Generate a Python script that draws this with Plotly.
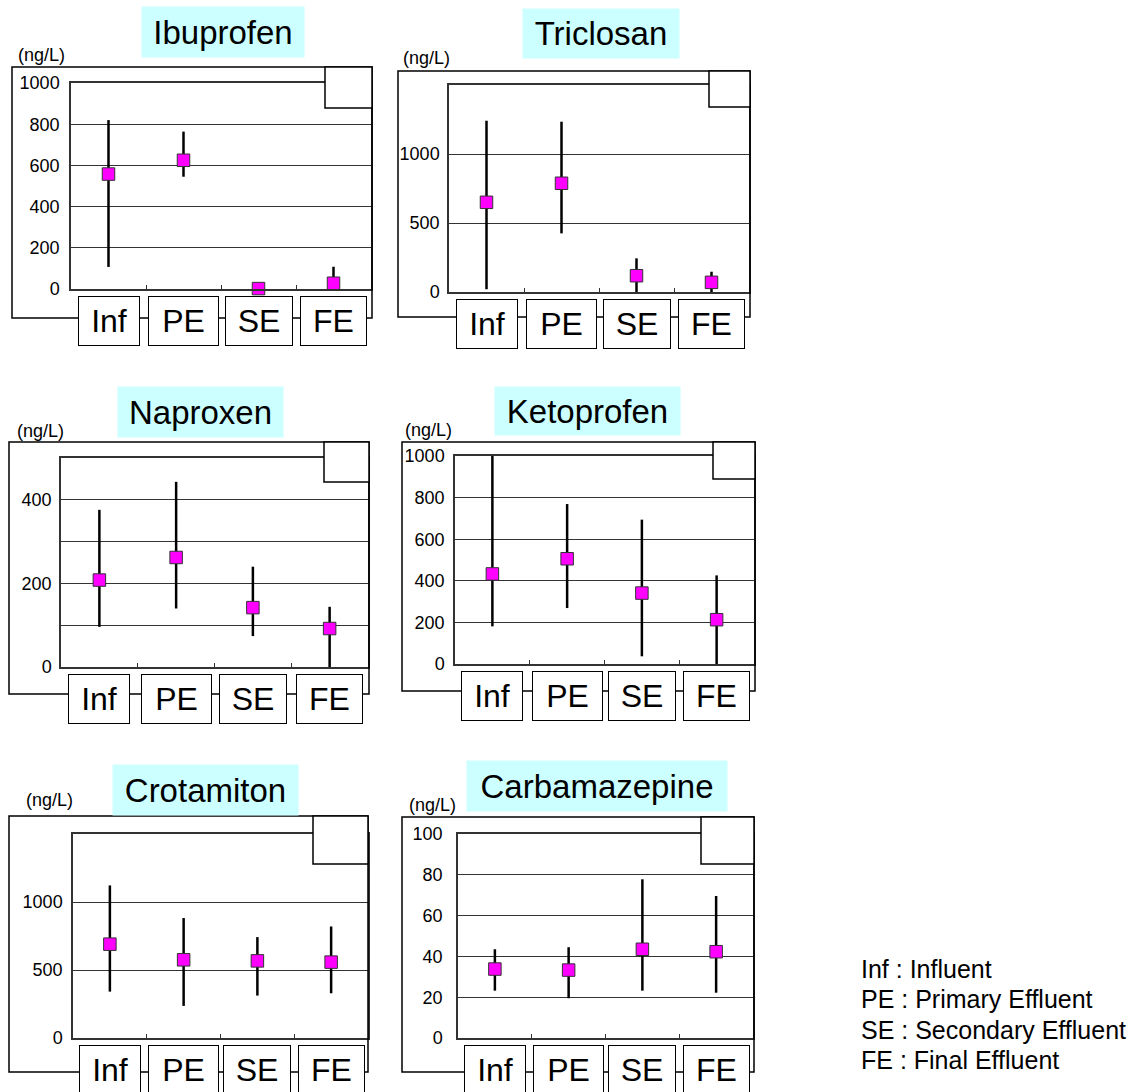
import plotly.graph_objects as go

W, H = 1141, 1092
FONT = "Liberation Sans, Arial, sans-serif"

# ---------------- data ----------------
categories = ["Inf", "PE", "SE", "FE"]
compounds = ["Ibuprofen", "Triclosan", "Naproxen", "Ketoprofen", "Crotamiton", "Carbamazepine"]
unit_label = "(ng/L)"

ibuprofen_mean = [558, 625, 2, 28]
ibuprofen_upper = [820, 764, 2, 108]
ibuprofen_lower = [107, 545, 2, 0]

triclosan_mean = [650, 788, 118, 70]
triclosan_upper = [1241, 1234, 244, 147]
triclosan_lower = [20, 425, 0, 0]

naproxen_mean = [208, 262, 142, 92]
naproxen_upper = [376, 443, 240, 144]
naproxen_lower = [96, 140, 74, 0]

ketoprofen_mean = [433, 506, 341, 213]
ketoprofen_upper = [1022, 769, 694, 426]
ketoprofen_lower = [181, 269, 37, 0]

crotamiton_mean = [690, 575, 567, 558]
crotamiton_upper = [1122, 882, 742, 820]
crotamiton_lower = [341, 236, 312, 329]

carbamazepine_mean = [33.8, 33.3, 43.5, 42.3]
carbamazepine_upper = [43.5, 44.5, 77.8, 69.6]
carbamazepine_lower = [23.2, 19.5, 23.2, 22.2]

ibuprofen_ticks = [0, 200, 400, 600, 800, 1000]
ibuprofen_ticktext = ["0", "200", "400", "600", "800", "1000"]
triclosan_ticks = [0, 500, 1000]
triclosan_ticktext = ["0", "500", "1000"]
naproxen_ticks = [0, 100, 200, 300, 400]
naproxen_ticktext = ["0", "", "200", "", "400"]
ketoprofen_ticks = [0, 200, 400, 600, 800, 1000]
ketoprofen_ticktext = ["0", "200", "400", "600", "800", "1000"]
crotamiton_ticks = [0, 500, 1000]
crotamiton_ticktext = ["0", "500", "1000"]
carbamazepine_ticks = [0, 20, 40, 60, 80, 100]
carbamazepine_ticktext = ["0", "20", "40", "60", "80", "100"]

y_ranges = [[0, 1000], [0, 1500], [0, 500], [0, 1000], [0, 1500], [0, 100]]

legend_lines = ["Inf : Influent", "PE : Primary Effluent",
                "SE : Secondary Effluent", "FE : Final Effluent"]

series = [
    (ibuprofen_mean, ibuprofen_upper, ibuprofen_lower, ibuprofen_ticks, ibuprofen_ticktext),
    (triclosan_mean, triclosan_upper, triclosan_lower, triclosan_ticks, triclosan_ticktext),
    (naproxen_mean, naproxen_upper, naproxen_lower, naproxen_ticks, naproxen_ticktext),
    (ketoprofen_mean, ketoprofen_upper, ketoprofen_lower, ketoprofen_ticks, ketoprofen_ticktext),
    (crotamiton_mean, crotamiton_upper, crotamiton_lower, crotamiton_ticks, crotamiton_ticktext),
    (carbamazepine_mean, carbamazepine_upper, carbamazepine_lower, carbamazepine_ticks, carbamazepine_ticktext),
]

# ---------------- layout geometry (pixels) ----------------
plot_px = [(71, 83, 371, 289), (449, 85, 749, 292), (61, 458, 368, 667),
           (455, 456, 754, 664), (73, 834, 368, 1038), (458, 834, 753, 1038)]
outer_px = [(12, 67, 372, 318), (398, 71, 750, 317), (9, 442, 369, 694),
            (402, 442, 755, 691), (9, 816, 368, 1072), (402, 817, 754, 1072)]
corner_px = [(325, 67, 372, 108), (709, 71, 750, 107), (324, 442, 369, 482),
             (713, 442, 755, 479), (313, 816, 368, 864), (701, 817, 754, 864)]
title_px = [(223, 32, 162, 50), (601, 33, 156, 49), (200, 412, 165, 50),
            (587, 411, 185, 48), (205, 790, 185, 50), (597, 786, 260, 50)]
unit_px = [(16, 55), (401, 58), (15, 431), (403, 430), (24, 800), (407, 805)]
tick_standoff = [6, 4, 4, 5, 5, 10]
label_widths = [58, 67, 64, 63]


def px(x):
    return x / W


def py(y):
    return 1 - y / H


fig = go.Figure()
shapes = []
annotations = []

for i, (name, (mean, upper, lower, tv, tt)) in enumerate(zip(compounds, series)):
    n = i + 1
    xs = "" if n == 1 else str(n)
    L, T, R, B = plot_px[i]
    fig.add_trace(go.Scatter(
        x=categories, y=mean, mode="markers",
        xaxis="x" + xs, yaxis="y" + xs, showlegend=False, cliponaxis=False,
        marker=dict(symbol="square", size=12.5, color="#ff00ff",
                    line=dict(color="#333333", width=1)),
        error_y=dict(type="data", symmetric=False,
                     array=[u - m for u, m in zip(upper, mean)],
                     arrayminus=[m - l for m, l in zip(mean, lower)],
                     color="black", thickness=2.5, width=0),
    ))
    fig.update_layout(**{
        "xaxis" + xs: dict(
            domain=[px(L), px(R)], anchor="y" + xs, type="category",
            categoryorder="array", categoryarray=categories,
            range=[-0.5, 3.5], showticklabels=False, showgrid=False,
            ticks="inside", tickson="boundaries", ticklen=4, tickcolor="#333",
            showline=True, linecolor="#333", linewidth=1.5, mirror=True,
            zeroline=False, fixedrange=True),
        "yaxis" + xs: dict(
            domain=[py(B), py(T)], anchor="x" + xs, range=y_ranges[i],
            tickvals=tv, ticktext=tt, ticks="", ticklabelstandoff=tick_standoff[i],
            tickfont=dict(family=FONT, size=18, color="black"),
            showgrid=True, gridcolor="#333", gridwidth=1,
            showline=True, linecolor="#333", linewidth=1.5, mirror=True,
            zeroline=False, fixedrange=True),
    })
    ox0, oy0, ox1, oy1 = outer_px[i]
    shapes.append(dict(type="rect", xref="paper", yref="paper",
                       x0=px(ox0), x1=px(ox1), y0=py(oy1), y1=py(oy0),
                       line=dict(color="black", width=1.5), layer="above"))
    cx0, cy0, cx1, cy1 = corner_px[i]
    shapes.append(dict(type="rect", xref="paper", yref="paper",
                       x0=px(cx0), x1=px(cx1), y0=py(cy1), y1=py(cy0),
                       fillcolor="white", line=dict(color="black", width=1.5),
                       layer="above"))
    tx, ty, tw, th = title_px[i]
    annotations.append(dict(text=name, xref="paper", yref="paper",
                            x=px(tx), y=py(ty), xanchor="center", yanchor="middle",
                            showarrow=False, width=tw, height=th, borderpad=0,
                            bgcolor="#ccffff",
                            font=dict(family=FONT, size=33, color="black")))
    ux, uy = unit_px[i]
    annotations.append(dict(text=unit_label, xref="paper", yref="paper",
                            x=px(ux), y=py(uy), xanchor="left", yanchor="middle",
                            showarrow=False,
                            font=dict(family=FONT, size=18, color="black")))
    for c, w in zip(categories, label_widths):
        annotations.append(dict(text=c, xref="x" + xs, yref="paper",
                                x=c, y=py(B + 7), xanchor="center", yanchor="top",
                                showarrow=False, width=w, height=46, borderpad=1,
                                bordercolor="black", borderwidth=1, bgcolor="white",
                                font=dict(family=FONT, size=32, color="black")))

legend_y = [969, 999, 1030, 1060]
for line, ly in zip(legend_lines, legend_y):
    annotations.append(dict(text=line, xref="paper", yref="paper",
                            x=px(859), y=py(ly), xanchor="left", yanchor="middle",
                            showarrow=False,
                            font=dict(family=FONT, size=25, color="black")))

fig.update_layout(
    width=W, height=H, autosize=False,
    margin=dict(l=0, r=0, t=0, b=0, pad=0, autoexpand=False),
    paper_bgcolor="white", plot_bgcolor="rgba(0,0,0,0)",
    shapes=shapes, annotations=annotations,
    font=dict(family=FONT, color="black"),
)

fig.write_html("out.html", post_script="document.body.style.margin='0';",
               config={"displayModeBar": False})
